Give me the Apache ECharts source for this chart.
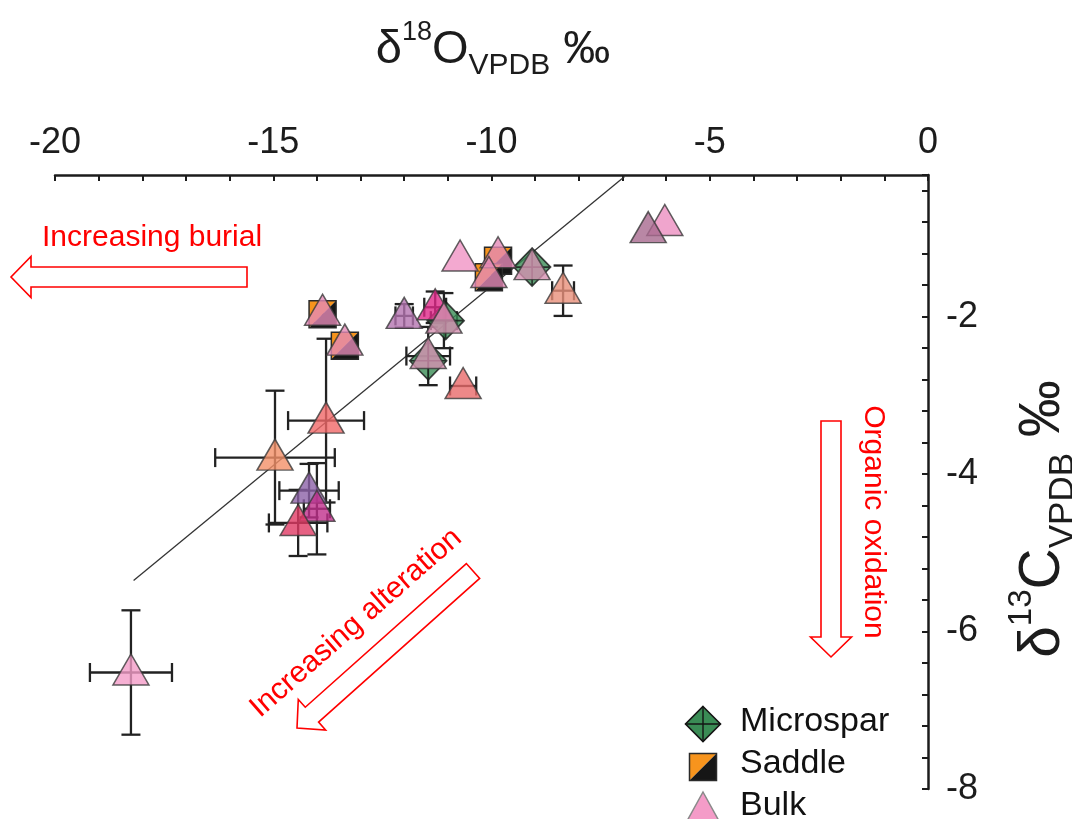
<!DOCTYPE html>
<html><head><meta charset="utf-8">
<script src="https://cdn.jsdelivr.net/npm/echarts@6/dist/echarts.min.js"></script>
<style>html,body{margin:0;padding:0;background:#fff}#c{width:1072px;height:819px}</style>
</head><body><div id="c"></div>
<script>
// ---- data ----
const xLabelValues = [-20, -15, -10, -5, 0];
const yLabelValues = [-8, -6, -4, -2];

// Bulk
const bulkX    = [-6.03, -6.41, -10.72, -9.85, -10.06, -9.07, -8.36, -12.00, -11.29, -11.09, -13.87, -13.36, -11.45, -10.65, -13.79, -14.96, -14.18, -14.00, -14.43, -18.26];
const bulkY    = [-0.81, -0.90, -1.26, -1.22, -1.47, -1.37, -1.67, -1.99, -1.88, -2.05, -1.95, -2.33, -2.50, -2.88, -3.32, -3.79, -4.21, -4.44, -4.62, -6.52];
const bulkXErr = [0, 0, 0, 0, 0, 0, 0.25, 0.20, 0.25, 0.30, 0, 0, 0.50, 0.30, 0.87, 1.37, 0.68, 0.30, 0.67, 0.94];
const bulkYErr = [0, 0, 0, 0, 0, 0, 0.32, 0.15, 0.20, 0.35, 0.13, 0, 0.37, 0, 1.04, 0.85, 0.34, 0.58, 0.42, 0.79];
// Microspar
const microX = [-9.07, -11.05, -11.45];
const microY = [-1.37, -2.05, -2.56];
// Saddle
const saddleX = [-13.87, -13.36, -9.85, -10.06];
const saddleY = [-1.97, -2.37, -1.29, -1.50];
// trend line end points
const lineX = [-18.2, -6.95];
const lineY = [-5.35, -0.22];

// ---- styles ----
const bulkColors = ['#ec8fc0', '#a8698f', '#f094c4', '#e48ab6', '#e48ab6', '#d490b0', '#e8907a', '#b474b0', '#e0288a', '#d490b0',
                    '#e48ab6', '#e48ab6', '#d490b0', '#e86a6a', '#f06868', '#f39068', '#8c62a8', '#c0308c', '#e03a64', '#f49cc8'];
const FONT = "'Liberation Sans', Arial, Helvetica, sans-serif";
const RED = '#ff0000';
const INK = '#1c1c1c';

function arrowPts(tail, tip, sw, hw, hl) {
  const dx = tip[0] - tail[0], dy = tip[1] - tail[1];
  const L = Math.hypot(dx, dy), ux = dx / L, uy = dy / L, px = -uy, py = ux;
  const bx = tip[0] - ux * hl, by = tip[1] - uy * hl;
  return [
    [tail[0] + px * sw / 2, tail[1] + py * sw / 2],
    [bx + px * sw / 2, by + py * sw / 2],
    [bx + px * hw / 2, by + py * hw / 2],
    [tip[0], tip[1]],
    [bx - px * hw / 2, by - py * hw / 2],
    [bx - px * sw / 2, by - py * sw / 2],
    [tail[0] - px * sw / 2, tail[1] - py * sw / 2]
  ];
}
function arrow(tail, tip) {
  return { type: 'polygon', shape: { points: arrowPts(tail, tip, 20, 41, 20) },
           style: { fill: '#fff', stroke: RED, lineWidth: 1.6 }, z: 50 };
}

const errData = bulkX.map((x, i) => [x, bulkY[i], bulkXErr[i], bulkYErr[i]]).filter(d => d[2] > 0 || d[3] > 0);

function renderErr(params, api) {
  const x = api.value(0), y = api.value(1), xe = api.value(2), ye = api.value(3);
  const st = { stroke: '#222', lineWidth: 2.3 };
  const cap = 9.5, ch = [];
  if (xe > 0) {
    const l = api.coord([x - xe, y]), r = api.coord([x + xe, y]);
    ch.push({ type: 'line', shape: { x1: l[0], y1: l[1], x2: r[0], y2: r[1] }, style: st });
    ch.push({ type: 'line', shape: { x1: l[0], y1: l[1] - cap, x2: l[0], y2: l[1] + cap }, style: st });
    ch.push({ type: 'line', shape: { x1: r[0], y1: r[1] - cap, x2: r[0], y2: r[1] + cap }, style: st });
  }
  if (ye > 0) {
    const t = api.coord([x, y + ye]), b = api.coord([x, y - ye]);
    ch.push({ type: 'line', shape: { x1: t[0], y1: t[1], x2: b[0], y2: b[1] }, style: st });
    ch.push({ type: 'line', shape: { x1: t[0] - cap, y1: t[1], x2: t[0] + cap, y2: t[1] }, style: st });
    ch.push({ type: 'line', shape: { x1: b[0] - cap, y1: b[1], x2: b[0] + cap, y2: b[1] }, style: st });
  }
  return { type: 'group', children: ch };
}

function saddleShape(cx, cy, h, z) {
  return [
    { type: 'polygon', z: z, shape: { points: [[cx - h, cy - h], [cx + h, cy - h], [cx - h, cy + h]] }, style: { fill: '#f7941d' } },
    { type: 'polygon', z: z, shape: { points: [[cx + h, cy - h], [cx + h, cy + h], [cx - h, cy + h]] }, style: { fill: '#161616' } },
    { type: 'rect', z: z, shape: { x: cx - h, y: cy - h, width: 2 * h, height: 2 * h }, style: { fill: 'none', stroke: '#2a2a2a', lineWidth: 1.5 } }
  ];
}
function renderSaddle(params, api) {
  const c = api.coord([api.value(0), api.value(1)]);
  return { type: 'group', children: saddleShape(c[0], c[1], 13.5) };
}

const diamondPath = 'path://M0,-10L10,0L0,10L-10,0Z M0,-10L0,10 M-10,0L10,0';

// legend diamond pieces
const LD = [703, 724, 17.5];
const legendDiamond = [
  { type: 'polygon', z: 60, shape: { points: [[LD[0], LD[1] - LD[2]], [LD[0] + LD[2], LD[1]], [LD[0], LD[1] + LD[2]], [LD[0] - LD[2], LD[1]]] },
    style: { fill: '#3a8c55', stroke: '#141414', lineWidth: 1.6 } },
  { type: 'line', z: 61, shape: { x1: LD[0], y1: LD[1] - LD[2], x2: LD[0], y2: LD[1] + LD[2] }, style: { stroke: '#141414', lineWidth: 1.4 } },
  { type: 'line', z: 61, shape: { x1: LD[0] - LD[2], y1: LD[1], x2: LD[0] + LD[2], y2: LD[1] }, style: { stroke: '#141414', lineWidth: 1.4 } }
];

const chart = echarts.init(document.getElementById('c'), null, { renderer: 'canvas' });
chart.setOption({
  animation: false,
  backgroundColor: '#ffffff',
  grid: { left: 55, right: 144, top: 175, bottom: 30, containLabel: false },
  xAxis: {
    type: 'value', position: 'top', min: -20, max: 0, interval: 1,
    axisLine: { show: true, onZero: false, lineStyle: { color: INK, width: 2.5 } },
    axisTick: { show: true, inside: true, length: 6, lineStyle: { color: INK, width: 2 } },
    axisLabel: { margin: 14, fontSize: 36, fontFamily: FONT, color: INK,
      formatter: v => xLabelValues.some(t => Math.abs(t - v) < 1e-6) ? String(Math.round(v)) : '' },
    splitLine: { show: false }
  },
  yAxis: {
    type: 'value', position: 'right', min: -8, max: -0.2, interval: 0.4,
    axisLine: { show: true, onZero: false, lineStyle: { color: INK, width: 2.5 } },
    axisTick: { show: true, inside: true, length: 6, lineStyle: { color: INK, width: 2 } },
    axisLabel: { margin: 18, fontSize: 36, fontFamily: FONT, color: INK,
      formatter: v => yLabelValues.some(t => Math.abs(t - v) < 1e-6) ? String(Math.round(v)) : '' },
    splitLine: { show: false }
  },
  series: [
    { type: 'line', name: 'trend', data: lineX.map((x, i) => [x, lineY[i]]), showSymbol: false, symbol: 'none',
      lineStyle: { color: '#333', width: 1.3 }, z: 1, silent: true },
    { type: 'custom', name: 'err', data: errData, renderItem: renderErr, encode: { x: 0, y: 1 }, z: 2, silent: true },
    { type: 'custom', name: 'Saddle', data: saddleX.map((x, i) => [x, saddleY[i]]), renderItem: renderSaddle,
      encode: { x: 0, y: 1 }, z: 3 },
    { type: 'scatter', name: 'Microspar', data: microX.map((x, i) => [x, microY[i]]), symbol: diamondPath,
      symbolSize: [37, 38], itemStyle: { color: '#3a8c55', borderColor: '#141414', borderWidth: 1.6 }, z: 4 },
    { type: 'scatter', name: 'Bulk', symbol: 'triangle', symbolSize: [36, 31], symbolOffset: [0, -3],
      data: bulkX.map((x, i) => ({ value: [x, bulkY[i]], itemStyle: { color: bulkColors[i] } })),
      itemStyle: { borderColor: '#3a3a3a', borderWidth: 1.5, opacity: 0.8 }, z: 5 }
  ],
  graphic: [
    // x-axis title
    { type: 'text', x: 493, y: 50, z: 60, style: {
        text: '{a|δ}{s|18}{a|O}{b|VPDB}{a| ‰}', align: 'center', verticalAlign: 'middle', fill: INK,
        rich: {
          a: { fontSize: 47, lineHeight: 62, fontFamily: FONT, fill: INK, verticalAlign: 'middle' },
          s: { fontSize: 27, lineHeight: 28, fontFamily: FONT, fill: INK, verticalAlign: 'top' },
          b: { fontSize: 30, lineHeight: 25, fontFamily: FONT, fill: INK, verticalAlign: 'bottom' }
        } } },
    // y-axis title (rotated)
    { type: 'text', x: 1043, y: 519, rotation: Math.PI / 2, z: 60, style: {
        text: '{a|δ}{s|13}{a|C}{b|VPDB}{a| ‰}', align: 'center', verticalAlign: 'middle', fill: INK,
        rich: {
          a: { fontSize: 57, lineHeight: 76, fontFamily: FONT, fill: INK, verticalAlign: 'middle' },
          s: { fontSize: 33, lineHeight: 36, fontFamily: FONT, fill: INK, verticalAlign: 'top' },
          b: { fontSize: 35, lineHeight: 30, fontFamily: FONT, fill: INK, verticalAlign: 'bottom' }
        } } },
    // annotations
    { type: 'text', x: 42, y: 238, z: 60, style: { text: 'Increasing burial', fontSize: 30, fontFamily: FONT, fill: RED, align: 'left', verticalAlign: 'middle' } },
    arrow([247, 277], [11, 277]),
    { type: 'text', x: 873, y: 522, rotation: -Math.PI / 2, z: 60, style: { text: 'Organic oxidation', fontSize: 30, fontFamily: FONT, fill: RED, align: 'center', verticalAlign: 'middle' } },
    arrow([831, 421], [831, 657]),
    { type: 'text', x: 356, y: 623, rotation: 0.72, z: 60, style: { text: 'Increasing alteration', fontSize: 30, fontFamily: FONT, fill: RED, align: 'center', verticalAlign: 'middle' } },
    arrow([473, 571], [297, 728]),
    // legend
    ...legendDiamond,
    ...saddleShape(703, 767, 13.5, 60),
    { type: 'polygon', z: 60, shape: { points: [[703, 792], [719, 821], [687, 821]] }, style: { fill: '#f49cc8', stroke: '#8a8a8a', lineWidth: 1.5 } },
    { type: 'text', x: 740, y: 722, z: 60, style: { text: 'Microspar', fontSize: 34, fontFamily: FONT, fill: '#111', verticalAlign: 'middle' } },
    { type: 'text', x: 740, y: 764, z: 60, style: { text: 'Saddle', fontSize: 34, fontFamily: FONT, fill: '#111', verticalAlign: 'middle' } },
    { type: 'text', x: 740, y: 806, z: 60, style: { text: 'Bulk', fontSize: 34, fontFamily: FONT, fill: '#111', verticalAlign: 'middle' } }
  ]
});
</script>
</body></html>
